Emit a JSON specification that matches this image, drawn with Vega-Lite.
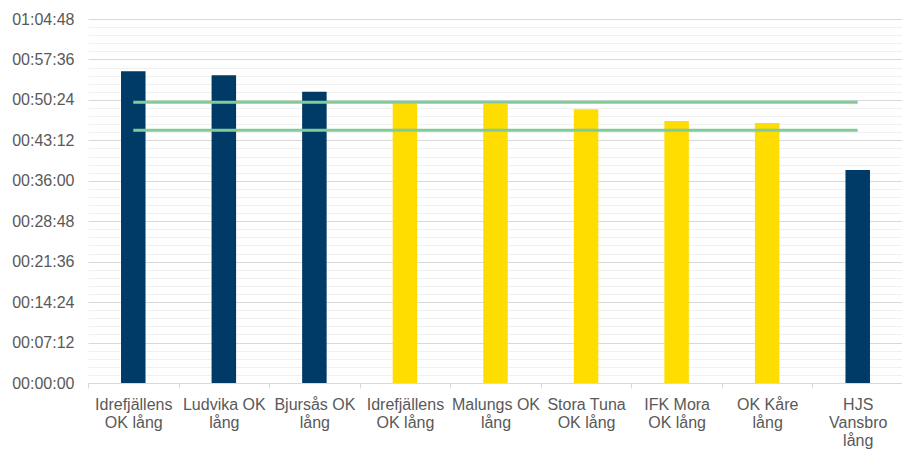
{
  "$schema": "https://vega.github.io/schema/vega-lite/v6.json",
  "autosize": {"type": "none"},
  "padding": {"left": 88, "top": 19, "right": 0, "bottom": 66},
  "width": 815,
  "height": 364,
  "background": "white",
  "config": {"view": {"stroke": null}, "font": "Liberation Sans"},
  "datasets": {
    "staplar": [
      {"nr": 1, "lag": "Idrefjällens OK lång", "serie": "A", "tid": 3329},
      {"nr": 2, "lag": "Ludvika OK lång", "serie": "A", "tid": 3287},
      {"nr": 3, "lag": "Bjursås OK lång", "serie": "A", "tid": 3112},
      {"nr": 4, "lag": "Idrefjällens OK lång", "serie": "B", "tid": 2987},
      {"nr": 5, "lag": "Malungs OK lång", "serie": "B", "tid": 2984},
      {"nr": 6, "lag": "Stora Tuna OK lång", "serie": "B", "tid": 2923},
      {"nr": 7, "lag": "IFK Mora OK lång", "serie": "B", "tid": 2799},
      {"nr": 8, "lag": "OK Kåre lång", "serie": "B", "tid": 2777},
      {"nr": 9, "lag": "HJS Vansbro lång", "serie": "A", "tid": 2275}
    ],
    "linjer": [
      {"nr": 1, "linje": "övre", "tid": 3000}, {"nr": 2, "linje": "övre", "tid": 3000},
      {"nr": 3, "linje": "övre", "tid": 3000}, {"nr": 4, "linje": "övre", "tid": 3000},
      {"nr": 5, "linje": "övre", "tid": 3000}, {"nr": 6, "linje": "övre", "tid": 3000},
      {"nr": 7, "linje": "övre", "tid": 3000}, {"nr": 8, "linje": "övre", "tid": 3000},
      {"nr": 9, "linje": "övre", "tid": 3000},
      {"nr": 1, "linje": "undre", "tid": 2700}, {"nr": 2, "linje": "undre", "tid": 2700},
      {"nr": 3, "linje": "undre", "tid": 2700}, {"nr": 4, "linje": "undre", "tid": 2700},
      {"nr": 5, "linje": "undre", "tid": 2700}, {"nr": 6, "linje": "undre", "tid": 2700},
      {"nr": 7, "linje": "undre", "tid": 2700}, {"nr": 8, "linje": "undre", "tid": 2700},
      {"nr": 9, "linje": "undre", "tid": 2700}
    ]
  },
  "layer": [
    {
      "data": {"name": "staplar"},
      "mark": {"type": "bar", "opacity": 0},
      "encoding": {
        "x": {"field": "nr", "type": "ordinal",
              "scale": {"paddingInner": 0, "paddingOuter": 0},
              "axis": {"title": null, "labelAngle": 0, "labelFontSize": 16, "labelColor": "#595959",
                       "labelFont": "Liberation Sans", "labelLineHeight": 18, "labelPadding": 8,
                       "labelBaseline": "top",
                       "labelExpr": "[['Idrefjällens','OK lång'],['Ludvika OK','lång'],['Bjursås OK','lång'],['Idrefjällens','OK lång'],['Malungs OK','lång'],['Stora Tuna','OK lång'],['IFK Mora','OK lång'],['OK Kåre','lång'],['HJS','Vansbro','lång']][datum.value - 1]",
                       "tickBand": "extent", "ticks": true, "tickSize": 5, "tickColor": "#d9d9d9",
                       "domain": true, "domainColor": "#d9d9d9", "grid": false, "labelLimit": 200}},
        "y": {"field": "tid", "type": "quantitative",
              "scale": {"domain": [0, 3888], "nice": false, "zero": true},
              "axis": {"orient": "left", "title": null, "labels": false, "ticks": false, "domain": false,
                       "grid": true, "gridColor": "#f0f0f0", "gridWidth": 1,
                       "values": [86.4, 172.8, 259.2, 345.6, 518.4, 604.8, 691.2, 777.6, 950.4, 1036.8, 1123.2, 1209.6, 1382.4, 1468.8, 1555.2, 1641.6, 1814.4, 1900.8, 1987.2, 2073.6, 2246.4, 2332.8, 2419.2, 2505.6, 2678.4, 2764.8, 2851.2, 2937.6, 3110.4, 3196.8, 3283.2, 3369.6, 3542.4, 3628.8, 3715.2, 3801.6]}}
      }
    },
    {
      "data": {"name": "staplar"},
      "mark": {"type": "bar", "width": 24.5},
      "encoding": {
        "x": {"field": "nr", "type": "ordinal"},
        "y": {"field": "tid", "type": "quantitative",
              "axis": {"orient": "left", "title": null, "ticks": false, "domain": false,
                       "grid": true, "gridColor": "#d9d9d9", "gridWidth": 1,
                       "values": [0, 432, 864, 1296, 1728, 2160, 2592, 3024, 3456, 3888],
                       "labelExpr": "utcFormat(datum.value * 1000, '%H:%M:%S')",
                       "labelFontSize": 16, "labelColor": "#595959", "labelFont": "Liberation Sans",
                       "labelPadding": 14}},
        "color": {"field": "serie", "type": "nominal",
                  "scale": {"domain": ["A", "B"], "range": ["#003A66", "#FFDD00"]},
                  "legend": null}
      }
    },
    {
      "data": {"name": "linjer"},
      "mark": {"type": "line", "strokeWidth": 3, "color": "#80CC98"},
      "encoding": {
        "x": {"field": "nr", "type": "ordinal"},
        "y": {"field": "tid", "type": "quantitative", "axis": null},
        "detail": {"field": "linje", "type": "nominal"}
      }
    }
  ],
  "resolve": {"axis": {"y": "independent"}}
}
